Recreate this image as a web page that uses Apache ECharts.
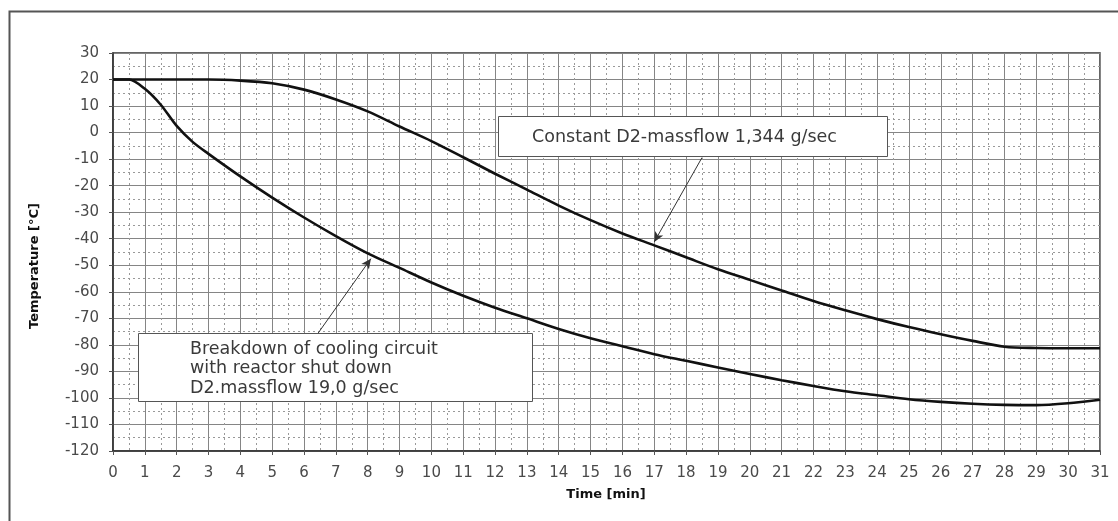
<!DOCTYPE html>
<html>
<head>
<meta charset="utf-8">
<script src="https://cdn.jsdelivr.net/npm/echarts@6/dist/echarts.min.js"></script>
<style>html,body{margin:0;padding:0;background:#fff;}#c{width:1118px;height:521px;}</style>
</head>
<body>
<div id="c"></div>
<script>
// Data
const timeConst = [0, 1, 2, 3, 4, 5, 6, 7, 8, 9, 10, 11, 12, 13, 14, 15, 16, 17, 18, 19, 20, 21, 22, 23, 24, 25, 26, 27, 28, 29, 30, 31];
const tempConst = [20, 20, 20, 20, 19.6, 18.6, 16.2, 12.5, 8, 2.3, -3.2, -9.3, -15.5, -21.5, -27.5, -33, -38, -42.5, -47, -51.5, -55.5, -59.5, -63.5, -67, -70.3, -73.3, -76, -78.5, -80.7, -81.2, -81.3, -81.3];
const timeBreak = [0, 0.5, 1, 1.5, 2, 2.5, 3, 4, 5, 6, 7, 8, 9, 10, 11, 12, 13, 14, 15, 16, 17, 18, 19, 20, 21, 22, 23, 24, 25, 26, 27, 28, 29, 30, 31];
const tempBreak = [20, 20, 16.5, 10.5, 2.5, -3.5, -8, -16.5, -24.5, -32, -39, -45.5, -51, -56.5, -61.5, -66, -70, -74, -77.5, -80.5, -83.5, -86, -88.5, -91, -93.3, -95.5, -97.5, -99, -100.5, -101.5, -102.2, -102.6, -102.7, -102, -100.7];
const xTicks = {min: 0, max: 31, step: 1};
const yTicks = {min: -120, max: 30, step: 10};
const labelConst = 'Constant D2-massflow 1,344 g/sec';
const labelBreak = ['Breakdown of cooling circuit', 'with reactor shut down', 'D2.massflow 19,0 g/sec'];
const xName = 'Time [min]';
const yName = 'Temperature [°C]';

const chart = echarts.init(document.getElementById('c'), null, {renderer: 'canvas'});
const FONT = '"DejaVu Sans", "Liberation Sans", Arial, sans-serif';
const pairs = (xs, ys) => xs.map((x, i) => [x, ys[i]]);

const axisCommon = {
  axisLine: {show: true, onZero: false, lineStyle: {color: '#333', width: 1.5}},
  axisTick: {show: true, inside: false, length: 4, lineStyle: {color: '#555'}},
  splitLine: {show: true, lineStyle: {color: '#858585', width: 1}},
  minorTick: {show: true, splitNumber: 2, length: 0},
  minorSplitLine: {show: true, lineStyle: {color: '#999', width: 1, type: [2, 3]}},
  axisLabel: {color: '#4a4a4a', fontFamily: FONT, fontSize: 15}
};

const boxText = (text, x, y) => ({type: 'text', x: x, y: y, z: 11, style: {text: text, fill: '#3a3a3a', font: '17.5px ' + FONT, textVerticalAlign: 'middle'}});

chart.setOption({
  backgroundColor: '#fff',
  animation: false,
  grid: {left: 113, right: 18, top: 53, bottom: 70, show: true, borderColor: '#333', borderWidth: 1.5},
  xAxis: Object.assign({}, axisCommon, {
    type: 'value', min: xTicks.min, max: xTicks.max, interval: xTicks.step,
    axisLabel: Object.assign({}, axisCommon.axisLabel, {margin: 15})
  }),
  yAxis: Object.assign({}, axisCommon, {
    type: 'value', min: yTicks.min, max: yTicks.max, interval: yTicks.step,
    axisLabel: Object.assign({}, axisCommon.axisLabel, {margin: 14})
  }),
  series: [
    {
      type: 'line', data: pairs(timeConst, tempConst), smooth: 0.3,
      showSymbol: false, lineStyle: {color: '#111', width: 2.6}, z: 5,
      markLine: {
        silent: true, symbol: ['none', 'arrow'], symbolSize: [7, 10],
        lineStyle: {color: '#333', width: 1, type: 'solid'}, label: {show: false},
        data: [[{coord: [18.5, -9.4]}, {coord: [17, -41.2]}]]
      }
    },
    {
      type: 'line', data: pairs(timeBreak, tempBreak), smooth: 0.3,
      showSymbol: false, lineStyle: {color: '#111', width: 2.6}, z: 5,
      markLine: {
        silent: true, symbol: ['none', 'arrow'], symbolSize: [7, 10],
        lineStyle: {color: '#333', width: 1, type: 'solid'}, label: {show: false},
        data: [[{coord: [6.3, -78]}, {coord: [8.1, -47.5]}]]
      }
    }
  ],
  graphic: [
    {type: 'rect', left: 7, top: 9, shape: {width: 1130, height: 530}, style: {fill: 'none', stroke: '#555', lineWidth: 2}, silent: true},
    {type: 'rect', left: 498, top: 116, z: 10, shape: {width: 389, height: 40}, style: {fill: '#fff', stroke: '#555', lineWidth: 1}},
    boxText(labelConst, 532, 137),
    {type: 'rect', left: 138, top: 333, z: 10, shape: {width: 394, height: 68}, style: {fill: '#fff', stroke: '#555', lineWidth: 1}},
    boxText(labelBreak[0], 190, 349),
    boxText(labelBreak[1], 190, 368.5),
    boxText(labelBreak[2], 190, 388),
    {type: 'text', x: 606, y: 495, z: 11, style: {text: xName, fill: '#111', font: 'bold 13px ' + FONT, textAlign: 'center', textVerticalAlign: 'middle'}},
    {type: 'text', x: 35, y: 266, rotation: Math.PI / 2, z: 11, style: {text: yName, fill: '#111', font: 'bold 13px ' + FONT, textAlign: 'center', textVerticalAlign: 'middle'}}
  ]
});
</script>
</body>
</html>
